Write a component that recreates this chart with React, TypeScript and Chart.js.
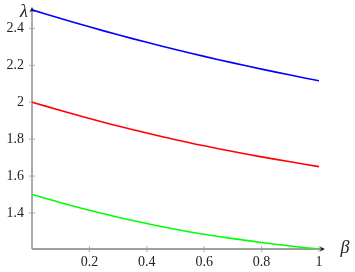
import React, { useEffect, useRef } from "react";
import { Chart, registerables } from "chart.js";

Chart.register(...registerables);

const betaValues = [0, 0.1, 0.2, 0.3, 0.4, 0.5, 0.6, 0.7, 0.8, 0.9, 1.0];
const blueLambda = [2.5, 2.453, 2.408, 2.365, 2.324, 2.285, 2.248, 2.213, 2.179, 2.147, 2.116];
const redLambda = [2.0, 1.955, 1.912, 1.871, 1.833, 1.797, 1.764, 1.733, 1.704, 1.677, 1.651];
const greenLambda = [1.5, 1.456, 1.415, 1.377, 1.343, 1.312, 1.285, 1.261, 1.24, 1.221, 1.205];
const xTicks = [0.2, 0.4, 0.6, 0.8, 1];
const yTicks = [1.4, 1.6, 1.8, 2, 2.2, 2.4];
const xMin = 0;
const xMax = 1;
const yMin = 1.205;
const yMax = 2.51;
const xLabel = "β";
const yLabel = "λ";

const FONT = "'Liberation Serif', 'DejaVu Serif', serif";

const axesPlugin = {
  id: "axesPlugin",
  beforeDatasetsDraw(chart: any) {
    const ctx = chart.ctx;
    const xs = chart.scales.x;
    const ys = chart.scales.y;
    const x0 = xs.getPixelForValue(xMin);
    const y0 = ys.getPixelForValue(yMin);
    const xEnd = xs.getPixelForValue(xMax) + 4;
    const yTop = ys.getPixelForValue(yMax);
    ctx.save();
    ctx.strokeStyle = "#808080";
    ctx.lineWidth = 1.3;
    ctx.beginPath();
    ctx.moveTo(x0, y0);
    ctx.lineTo(xEnd, y0);
    ctx.moveTo(x0, y0);
    ctx.lineTo(x0, yTop + 2);
    ctx.stroke();
    ctx.lineWidth = 0.8;
    ctx.strokeStyle = "#9a9a9a";
    ctx.beginPath();
    for (const v of xTicks) {
      const px = xs.getPixelForValue(v);
      ctx.moveTo(px, y0 - 3);
      ctx.lineTo(px, y0 + 3);
    }
    for (const v of yTicks) {
      const py = ys.getPixelForValue(v);
      ctx.moveTo(x0 - 3, py);
      ctx.lineTo(x0 + 3, py);
    }
    ctx.stroke();
    ctx.fillStyle = "#222";
    ctx.beginPath();
    ctx.moveTo(xEnd + 2, y0);
    ctx.lineTo(xEnd - 3, y0 - 2.5);
    ctx.lineTo(xEnd - 2, y0);
    ctx.lineTo(xEnd - 3, y0 + 2.5);
    ctx.closePath();
    ctx.fill();
    ctx.beginPath();
    ctx.moveTo(x0, yTop - 1);
    ctx.lineTo(x0 - 2.5, yTop + 4);
    ctx.lineTo(x0, yTop + 3);
    ctx.lineTo(x0 + 2.5, yTop + 4);
    ctx.closePath();
    ctx.fill();
    ctx.fillStyle = "#222";
    ctx.font = `italic 18px ${FONT}`;
    ctx.textAlign = "center";
    ctx.textBaseline = "middle";
    ctx.fillText(xLabel, 345, y0 - 1);
    ctx.fillText(yLabel, x0 - 8, yTop + 4);
    ctx.restore();
  },
};

export default function App() {
  const ref = useRef<HTMLCanvasElement | null>(null);
  useEffect(() => {
    if (!ref.current) return;
    const mk = (vals: number[]) => betaValues.map((b, i) => ({ x: b, y: vals[i] }));
    const ds = (vals: number[], color: string) => ({
      data: mk(vals),
      borderColor: color,
      backgroundColor: color,
      borderWidth: 1.6,
      pointRadius: 0,
      tension: 0.4,
      fill: false,
    });
    const chart = new Chart(ref.current, {
      type: "line",
      data: {
        datasets: [ds(blueLambda, "#0000ff"), ds(redLambda, "#ff0000"), ds(greenLambda, "#00ff00")],
      },
      options: {
        animation: false,
        responsive: false,
        maintainAspectRatio: false,
        layout: { padding: { top: 8, right: 36, left: 0, bottom: 0 } },
        plugins: { legend: { display: false }, tooltip: { enabled: false } },
        scales: {
          x: {
            type: "linear",
            min: xMin,
            max: xMax,
            grid: { display: false, drawTicks: false },
            border: { display: false },
            afterBuildTicks: (s: any) => {
              s.ticks = xTicks.map((v) => ({ value: v }));
            },
            afterFit: (s: any) => {
              s.height = 23;
              s.paddingLeft = 0;
              s.paddingRight = 0;
            },
            ticks: {
              padding: 5,
              color: "#222",
              font: { family: FONT, size: 14 },
              callback: (v: any) => String(Number(v)),
            },
          },
          y: {
            type: "linear",
            min: yMin,
            max: yMax,
            grid: { display: false, drawTicks: false },
            border: { display: false },
            afterBuildTicks: (s: any) => {
              s.ticks = yTicks.map((v) => ({ value: v }));
            },
            afterFit: (s: any) => {
              s.width = 32;
              s.paddingTop = 0;
              s.paddingBottom = 0;
            },
            ticks: {
              padding: 8,
              color: "#222",
              font: { family: FONT, size: 14 },
              callback: (v: any) => String(Number(v)),
            },
          },
        },
      },
      plugins: [axesPlugin],
    });
    return () => chart.destroy();
  }, []);
  return (
    <div style={{ position: "fixed", left: 0, top: 0, width: 355, height: 272, background: "#fff" }}>
      <canvas ref={ref} width={355} height={272} style={{ width: 355, height: 272, display: "block" }} />
    </div>
  );
}
